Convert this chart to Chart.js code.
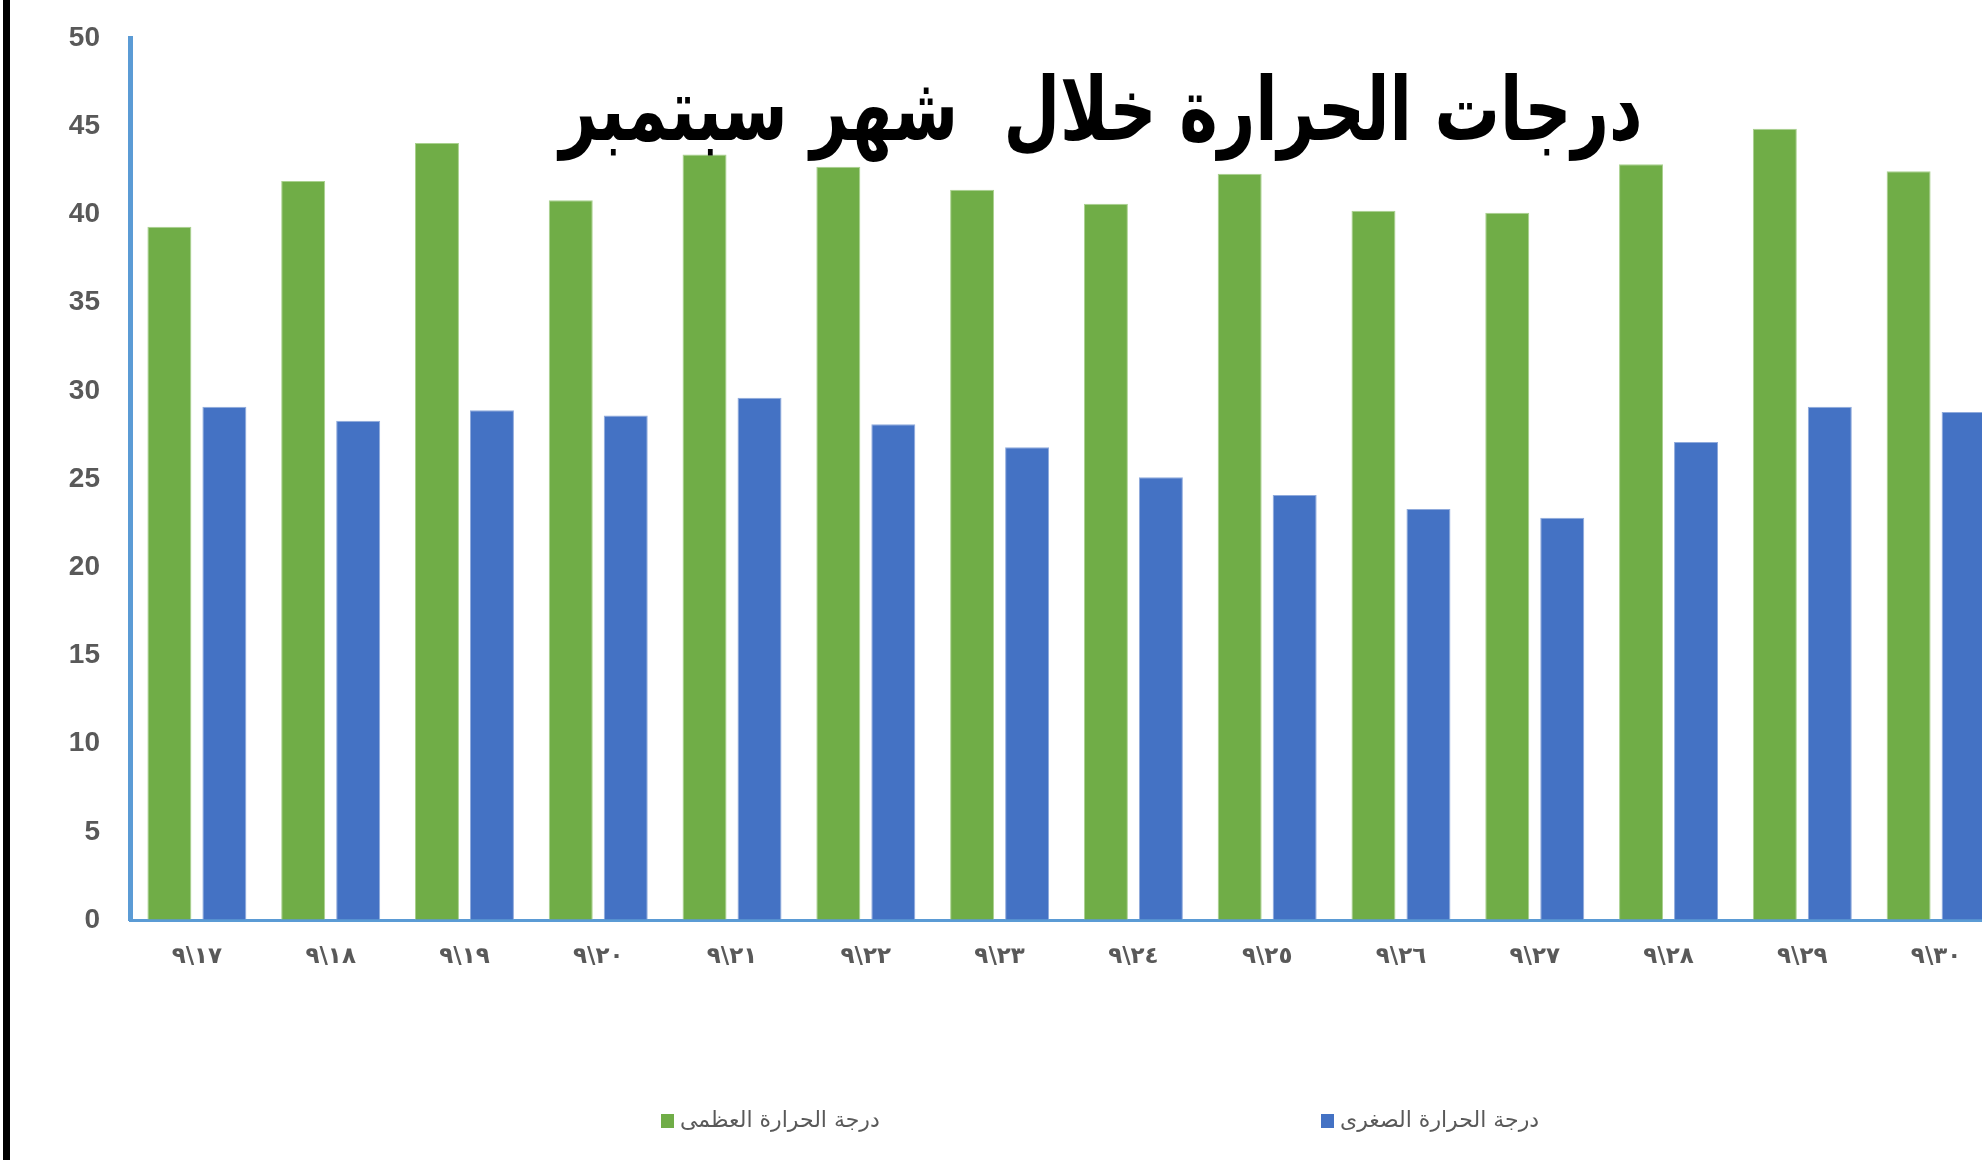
<!DOCTYPE html>
<html><head><meta charset="utf-8">
<script src="https://cdn.jsdelivr.net/npm/chart.js@4.4.1/dist/chart.umd.min.js"></script>
<style>
html,body{margin:0;padding:0;background:#fff;overflow:hidden;width:1982px;height:1160px;}
#wrap{position:absolute;left:0;top:0;width:2003px;height:1160px;}
#frame{position:absolute;left:3px;top:0;width:7px;height:1160px;background:#000;}
</style></head><body>
<div id="wrap"><canvas id="c" width="2003" height="1160"></canvas></div>
<div id="frame"></div>
<script>
const LRM = '\u200E';
const categories = ['٩\\١٧','٩\\١٨','٩\\١٩','٩\\٢٠','٩\\٢١','٩\\٢٢','٩\\٢٣','٩\\٢٤','٩\\٢٥','٩\\٢٦','٩\\٢٧','٩\\٢٨','٩\\٢٩','٩\\٣٠'];
const maxTemps = [39.3, 41.9, 44.05, 40.8, 43.4, 42.7, 41.4, 40.6, 42.3, 40.2, 40.1, 42.85, 44.85, 42.45];
const minTemps = [29.1, 28.3, 28.9, 28.6, 29.6, 28.1, 26.8, 25.1, 24.1, 23.3, 22.8, 27.1, 29.1, 28.8];
const seriesNames = ['درجة الحرارة العظمى', 'درجة الحرارة الصغرى'];
const titleText = 'درجات الحرارة خلال  شهر سبتمبر';
const yMin = 0, yMax = 50, yStep = 5;

const displayLabels = categories.map(c => c.replace('\\', LRM + '\\' + LRM));

const titlePlugin = {
  id: 'customTitle',
  afterDraw(chart) {
    const ctx = chart.ctx;
    ctx.save();
    ctx.font = 'bold 88px "DejaVu Sans"';
    ctx.fillStyle = '#000000';
    ctx.textAlign = 'center';
    ctx.textBaseline = 'alphabetic';
    const w = ctx.measureText(titleText).width;
    ctx.translate(1101, 140);
    ctx.scale(1083 / w, 1);
    ctx.fillText(titleText, 0, 0);
    ctx.restore();
  }
};

const legendPlugin = {
  id: 'customLegend',
  afterDraw(chart) {
    const ctx = chart.ctx;
    const xs = [661, 1321];
    const y = 1121;
    ctx.save();
    chart.data.datasets.forEach((ds, i) => {
      ctx.fillStyle = ds.backgroundColor;
      ctx.fillRect(xs[i], y - 7, 13, 14);
      ctx.fillStyle = '#595959';
      ctx.font = '22px "DejaVu Sans"';
      ctx.textAlign = 'left';
      ctx.textBaseline = 'middle';
      ctx.fillText(ds.label, xs[i] + 19, y);
    });
    ctx.restore();
  }
};

new Chart(document.getElementById('c'), {
  type: 'bar',
  data: {
    labels: displayLabels,
    datasets: [
      { label: seriesNames[0], data: maxTemps, backgroundColor: '#70AD47', borderColor: '#A9D18E', borderWidth: 1,
        barPercentage: 0.8, categoryPercentage: 0.822 },
      { label: seriesNames[1], data: minTemps, backgroundColor: '#4472C4', borderColor: '#8FAADC', borderWidth: 1,
        barPercentage: 0.8, categoryPercentage: 0.822 }
    ]
  },
  options: {
    responsive: false,
    animation: false,
    layout: { padding: { top: 38, left: 0, right: 0, bottom: 0 } },
    plugins: { legend: { display: false }, title: { display: false }, tooltip: { enabled: false } },
    scales: {
      x: {
        grid: { display: false, drawTicks: false },
        border: { display: true, color: '#5B9BD5', width: 3 },
        ticks: { color: '#595959', font: { family: 'DejaVu Sans', size: 23, weight: 'bold' }, padding: 23, maxRotation: 0, autoSkip: false },
        afterFit(s) { s.height = 240; }
      },
      y: {
        min: yMin, max: yMax,
        ticks: { stepSize: yStep, color: '#595959', font: { family: 'Liberation Sans', size: 28, weight: 'bold' }, padding: 3 },
        grid: { display: true, drawOnChartArea: false, drawTicks: true, tickLength: 27, color: 'rgba(0,0,0,0)', tickColor: 'rgba(0,0,0,0)' },
        border: { display: true, color: '#5B9BD5', width: 5 },
        afterFit(s) { s.width = 130; }
      }
    }
  },
  plugins: [titlePlugin, legendPlugin]
});
</script>
</body></html>
